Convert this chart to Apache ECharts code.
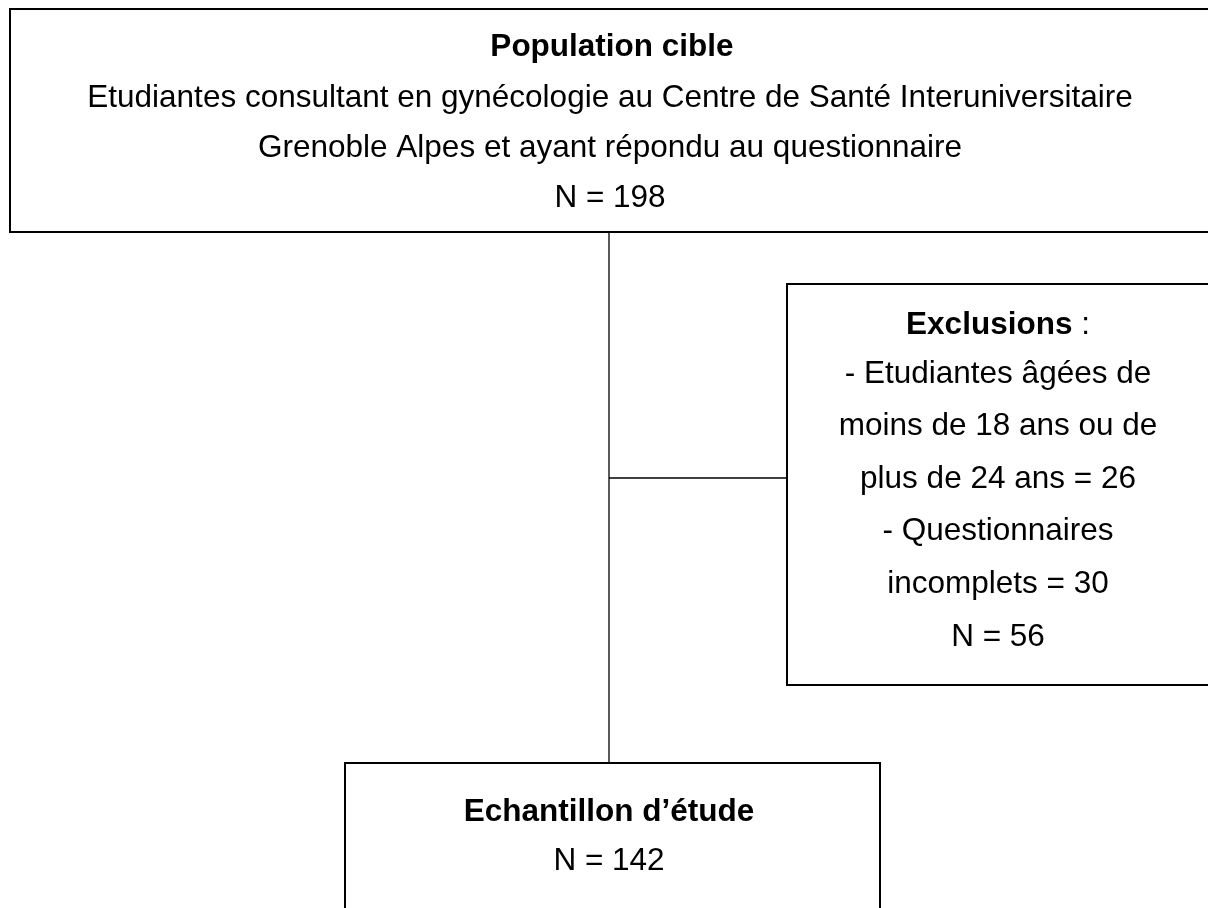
<!DOCTYPE html>
<html>
<head>
<meta charset="utf-8">
<style>
  html, body { margin: 0; padding: 0; background: #fff; }
  #chart { width: 1208px; height: 908px; }
</style>
<script src="https://cdn.jsdelivr.net/npm/echarts@6/dist/echarts.min.js"></script>
</head>
<body>
<div id="chart"></div>
<script>
// texts of the three boxes
var populationTitle = 'Population cible'
var populationLines = [
  'Etudiantes consultant en gynécologie au Centre de Santé Interuniversitaire',
  'Grenoble Alpes et ayant répondu au questionnaire',
  'N = 198'
]
var exclusionTitle = 'Exclusions'
var exclusionLines = [
  '- Etudiantes âgées de',
  'moins de 18 ans ou de',
  'plus de 24 ans = 26',
  '- Questionnaires',
  'incomplets = 30',
  'N = 56'
]
var sampleTitle = 'Echantillon d\u2019étude'
var sampleLines = ['N = 142']

var font = '"Liberation Sans", Arial, sans-serif'
var fontSize = 31.5

function box (x, y, w, h) {
  return {
    type: 'rect',
    shape: { x: x, y: y, width: w, height: h },
    style: { fill: '#fff', stroke: '#000', lineWidth: 2 }
  }
}
function line (x1, y1, x2, y2) {
  return {
    type: 'line',
    shape: { x1: x1, y1: y1, x2: x2, y2: y2 },
    style: { stroke: '#000', lineWidth: 1.3 }
  }
}
function text (str, cx, cy, bold) {
  return {
    type: 'text',
    x: cx, y: cy,
    style: {
      text: str,
      font: (bold ? 'bold ' : '') + fontSize + 'px ' + font,
      fill: '#000',
      align: 'center',
      verticalAlign: 'middle'
    }
  }
}

var elements = []
// connectors first, boxes on top
elements.push(line(609, 232, 609, 763))
elements.push(line(609, 478, 787, 478))

elements.push(box(10, 9, 1200, 223))
elements.push(text(populationTitle, 612, 47, true))
populationLines.forEach(function (s, i) {
  elements.push(text(s, 610, 98 + i * 50, false))
})

elements.push(box(787, 284, 424, 401))
elements.push({
  type: 'text',
  x: 998, y: 325,
  style: {
    text: '{b|' + exclusionTitle + '} :',
    font: fontSize + 'px ' + font,
    fill: '#000',
    align: 'center',
    verticalAlign: 'middle',
    rich: { b: { fontWeight: 'bold', fontSize: fontSize, fontFamily: font } }
  }
})
exclusionLines.forEach(function (s, i) {
  elements.push(text(s, 998, 374 + i * 52.6, false))
})

elements.push(box(345, 763, 535, 160))
elements.push(text(sampleTitle, 609, 812, true))
sampleLines.forEach(function (s, i) {
  elements.push(text(s, 609, 861 + i * 50, false))
})

var chart = echarts.init(document.getElementById('chart'))
chart.setOption({
  backgroundColor: '#fff',
  animation: false,
  graphic: { elements: elements }
})
</script>
</body>
</html>
